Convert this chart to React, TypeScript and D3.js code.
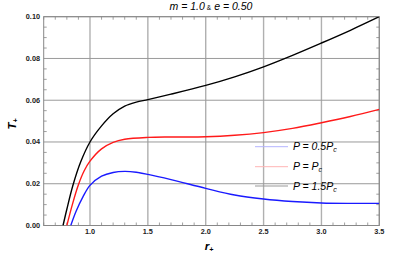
import React from "react";
import * as d3 from "d3";

const xTicks = [1.0, 1.5, 2.0, 2.5, 3.0, 3.5];
const yTicks = [0.0, 0.02, 0.04, 0.06, 0.08, 0.1];

const rBlack = [0.767, 0.8, 0.854, 0.92, 1.0, 1.1, 1.2, 1.3, 1.4, 1.5, 1.7, 2.0, 2.25, 2.5, 2.75, 3.0, 3.25, 3.5];
const tBlack = [0.0, 0.0078, 0.0195, 0.0305, 0.040, 0.0477, 0.0535, 0.0572, 0.0591, 0.0603, 0.0629, 0.0671, 0.0712, 0.076, 0.0815, 0.0874, 0.0935, 0.1];

const rRed = [0.8, 0.85, 0.9, 0.95, 1.0, 1.1, 1.2, 1.3, 1.5, 1.7, 2.0, 2.25, 2.5, 2.75, 3.0, 3.25, 3.5];
const tRed = [0.0, 0.0105, 0.0195, 0.0262, 0.0308, 0.0367, 0.0398, 0.0413, 0.0422, 0.0424, 0.0425, 0.0432, 0.0445, 0.0465, 0.0492, 0.0522, 0.0556];

const rBlue = [0.834, 0.88, 0.94, 1.0, 1.1, 1.2, 1.3, 1.4, 1.5, 1.7, 2.0, 2.25, 2.5, 2.75, 3.0, 3.25, 3.5];
const tBlue = [0.0, 0.0068, 0.0138, 0.0192, 0.0236, 0.0254, 0.0259, 0.0255, 0.0245, 0.022, 0.0178, 0.0146, 0.0127, 0.0115, 0.0108, 0.0106, 0.0106];

const seriesNames = ["0.5", "", "1.5"];
const seriesColors = ["#1a1aff", "#ff1a1a", "#000000"];
const legendColors = ["#b4b4ff", "#ffb4b4", "#999999"];

const W = 415;
const H = 260;
const L = 43.7;
const R = 379.3;
const T = 16.7;
const B = 225.5;

export default function App() {
  const x = d3.scaleLinear().domain([0.6, 3.5]).range([L, R]);
  const y = d3.scaleLinear().domain([0, 0.1]).range([B, T]);
  const line = d3
    .line<[number, number]>()
    .x((d) => x(d[0]))
    .y((d) => y(d[1]))
    .curve(d3.curveCatmullRom.alpha(0.5));

  const series = [
    rBlue.map((r, i) => [r, tBlue[i]] as [number, number]),
    rRed.map((r, i) => [r, tRed[i]] as [number, number]),
    rBlack.map((r, i) => [r, tBlack[i]] as [number, number]),
  ];

  const xMinor = d3.range(6, 36).map((v) => v / 10).filter((v) => !xTicks.some((t) => Math.abs(t - v) < 1e-6));
  const yMinor = d3.range(0, 21).map((v) => v * 0.005).filter((v) => !yTicks.some((t) => Math.abs(t - v) < 1e-6));

  const font = "'Liberation Sans', Arial, sans-serif";
  const legendY = [146.7, 166.7, 186];

  return (
    <svg width={W} height={H} style={{ position: "absolute", left: 0, top: 0, background: "#fff" }}>
      <defs>
        <clipPath id="plot">
          <rect x={L} y={T} width={R - L} height={B - T} />
        </clipPath>
      </defs>
      {xTicks.map((t) => (
        <line key={"gx" + t} x1={x(t)} x2={x(t)} y1={T} y2={B} stroke="#b0b0b0" strokeWidth={1.4} />
      ))}
      {yTicks.map((t) => (
        <line key={"gy" + t} x1={L} x2={R} y1={y(t)} y2={y(t)} stroke="#9a9a9a" strokeWidth={1} />
      ))}
      {xMinor.map((t) => (
        <g key={"mx" + t}>
          <line x1={x(t)} x2={x(t)} y1={B} y2={B - 3} stroke="#777" strokeWidth={0.7} />
          <line x1={x(t)} x2={x(t)} y1={T} y2={T + 3} stroke="#777" strokeWidth={0.7} />
        </g>
      ))}
      {yMinor.map((t) => (
        <g key={"my" + t}>
          <line x1={L} x2={L + 3} y1={y(t)} y2={y(t)} stroke="#777" strokeWidth={0.7} />
          <line x1={R} x2={R - 3} y1={y(t)} y2={y(t)} stroke="#777" strokeWidth={0.7} />
        </g>
      ))}
      <rect x={L} y={T} width={R - L} height={B - T} fill="none" stroke="#888" strokeWidth={1} />
      <g clipPath="url(#plot)">
        {series.map((s, i) => (
          <path key={"s" + i} d={line(s) || ""} fill="none" stroke={seriesColors[i]} strokeWidth={1.4} />
        ))}
      </g>
      {xTicks.map((t) => (
        <text key={"tx" + t} x={x(t)} y={234} textAnchor="middle" fontFamily={font} fontSize={7.3} fontWeight="bold" fill="#222">
          {t.toFixed(1)}
        </text>
      ))}
      {yTicks.map((t) => (
        <text key={"ty" + t} x={40} y={y(t) + 2.5} textAnchor="end" fontFamily={font} fontSize={7.3} fontWeight="bold" fill="#222">
          {t.toFixed(2)}
        </text>
      ))}
      <text x={209} y={250} textAnchor="middle" fontFamily={font} fontSize={11.5} fontWeight="bold" fontStyle="italic">
        r<tspan fontSize={7} dy={2}>+</tspan>
      </text>
      <text transform="translate(16,124) rotate(-90)" textAnchor="middle" fontFamily={font} fontSize={11.5} fontWeight="bold" fontStyle="italic">
        T<tspan fontSize={7} dy={2}>+</tspan>
      </text>
      <text x={211} y={9.5} textAnchor="middle" fontFamily={font} fontSize={10.5} fontStyle="italic">
        m = 1.0<tspan fontSize={6.5} fontStyle="normal" dx={2}>&amp;</tspan>
        <tspan dx={3}>e = 0.50</tspan>
      </text>
      {seriesNames.map((n, i) => (
        <g key={"lg" + i}>
          <line x1={255} x2={288} y1={legendY[i]} y2={legendY[i]} stroke={legendColors[i]} strokeWidth={1} />
          <text x={293} y={legendY[i] + 3.5} fontFamily={font} fontSize={10.5} fontStyle="italic">
            P = {n}P<tspan fontSize={7} dy={2}>c</tspan>
          </text>
        </g>
      ))}
    </svg>
  );
}
